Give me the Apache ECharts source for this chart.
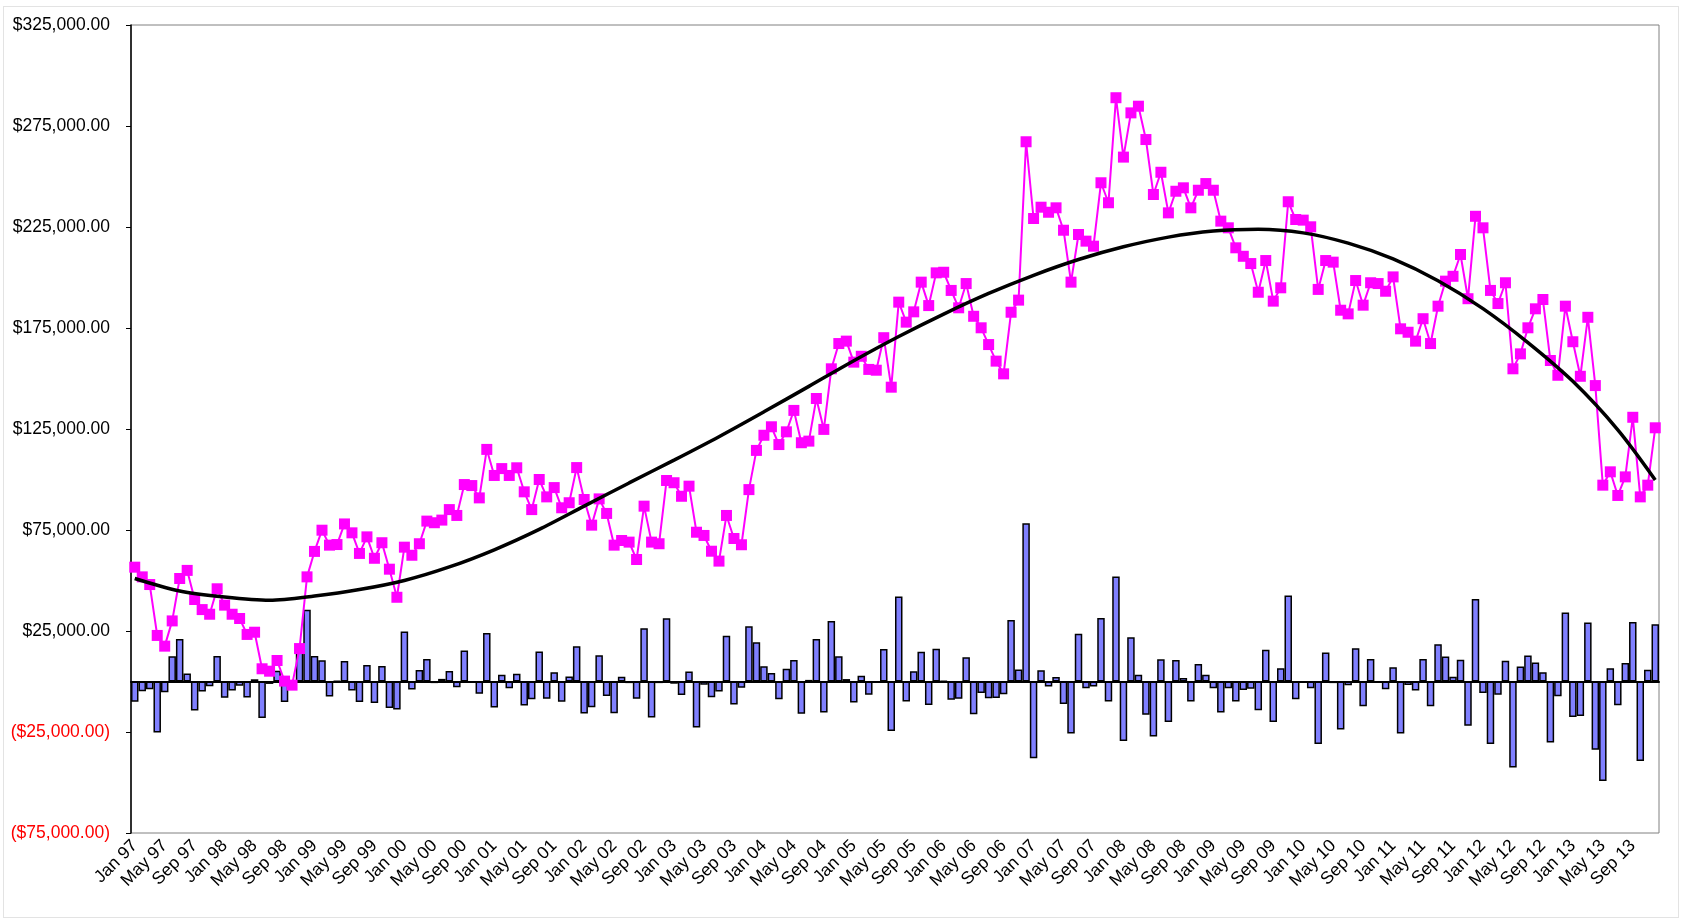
<!DOCTYPE html>
<html>
<head>
    <meta charset="utf-8"/>
    <title>Monthly value, change and trend</title>
    <script src="https://cdn.jsdelivr.net/npm/echarts@6/dist/echarts.min.js"></script>
    <style>
        html, body { margin: 0; padding: 0; background: #fff; }
        #frame { position: absolute; left: 3px; top: 6px; width: 1676px; height: 912px; border: 1px solid #e3e3e3; box-sizing: border-box; }
        #chart { position: absolute; left: 0; top: 0; width: 1681px; height: 920px; }
    </style>
</head>
<body>
<div id="frame"></div>
<div id="chart"></div>
<script>
    // monthly value, Jan 97 .. Dec 13
    var values = [
        56600, 51800, 48000, 22800, 17500, 30000, 51000, 55000, 40600, 35600, 33300, 45900,
        37800, 33300, 31200, 23300, 24400, 6300, 5100, 10400, 200, -1800, 16300, 51800,
        64400, 74900, 67500, 67800, 78000, 73600, 63400, 71600, 61000, 68700, 55600, 41700,
        66500, 62500, 68200, 79400, 78600, 79900, 85100, 82200, 97500, 97000, 90900, 114900,
        102000, 105400, 102000, 105800, 93900, 85100, 100000, 91400, 96000, 86000, 88500, 105900,
        90100, 77400, 90400, 83200, 67500, 69800, 69000, 60400, 86800, 69000, 68200, 99500,
        98400, 91700, 96700, 73900, 72300, 64500, 59600, 82200, 70800, 67700, 95000, 114400,
        121900, 126100, 117300, 123600, 134200, 118200, 119000, 140100, 124800, 154800, 167300, 168500,
        158100, 161000, 154500, 154100, 170200, 145700, 187800, 177900, 183000, 197700, 186100, 202300,
        202600, 193600, 185000, 197000, 180800, 175100, 166800, 158600, 152300, 182800, 188800, 267200,
        229200, 234800, 232300, 234500, 223400, 197700, 221300, 218000, 215500, 246900, 237000, 289000,
        259600, 281500, 284800, 268300, 241100, 252100, 232000, 242700, 244400, 234500, 243200, 246500,
        243200, 227900, 224600, 214700, 210500, 206900, 192700, 208400, 188300, 194900, 237500, 228700,
        228400, 225100, 194100, 208400, 207600, 183800, 182000, 198500, 186300, 197400, 197000, 193200,
        200300, 174600, 172900, 168500, 179600, 167300, 185800, 198200, 200600, 211400, 189500, 230300,
        224600, 193600, 187100, 197400, 154800, 162200, 175100, 184500, 189100, 158900, 151600, 185800,
        168200, 151100, 180300, 146500, 97200, 103800, 92100, 101300, 130800, 91400, 97200, 125600
    ];

    // month-on-month change (bars)
    var changes = [
        -10000, -4800, -3800, -25200, -5300, 12500, 21000, 4000, -14400, -5000, -2300, 12600,
        -8100, -4500, -2100, -7900, 1100, -18100, -1200, 5300, -10200, -2000, 18100, 35500,
        12600, 10500, -7400, 300, 10200, -4400, -10200, 8200, -10600, 7700, -13100, -13900,
        24800, -4000, 5700, 11200, -800, 1300, 5200, -2900, 15300, -500, -6100, 24000,
        -12900, 3400, -3400, 3800, -11900, -8800, 14900, -8600, 4600, -10000, 2500, 17400,
        -15800, -12700, 13000, -7200, -15700, 2300, -800, -8600, 26400, -17800, -800, 31300,
        -1100, -6700, 5000, -22800, -1600, -7800, -4900, 22600, -11400, -3100, 27300, 19400,
        7500, 4200, -8800, 6300, 10600, -16000, 800, 21100, -15300, 30000, 12500, 1200,
        -10400, 2900, -6500, -400, 16100, -24500, 42100, -9900, 5100, 14700, -11600, 16200,
        300, -9000, -8600, 12000, -16200, -5700, -8300, -8200, -6300, 30500, 6000, 78400,
        -38000, 5600, -2500, 2200, -11100, -25700, 23600, -3300, -2500, 31400, -9900, 52000,
        -29400, 21900, 3300, -16500, -27200, 11000, -20100, 10700, 1700, -9900, 8700, 3300,
        -3300, -15300, -3300, -9900, -4200, -3600, -14200, 15700, -20100, 6600, 42600, -8800,
        -300, -3300, -31000, 14300, -800, -23800, -1800, 16500, -12200, 11100, -400, -3800,
        7100, -25700, -1700, -4400, 11100, -12300, 18500, 12400, 2400, 10800, -21900, 40800,
        -5700, -31000, -6500, 10300, -42600, 7400, 12900, 9400, 4600, -30200, -7300, 34200,
        -17600, -17100, 29200, -33800, -49300, 6600, -11700, 9200, 29500, -39400, 5800, 28400
    ];

    // trend curve, read every 6 months
    var trendMonths = [0, 6, 12, 18, 24, 30, 36, 42, 48, 54, 60, 66, 72, 78, 84, 90, 96, 102,
        108, 114, 120, 126, 132, 138, 144, 150, 156, 162, 168, 174, 180, 186, 192, 198, 203];
    var trendValues = [51000, 44800, 41800, 40200, 42300, 45500, 50000, 56700, 65200, 75300, 86800, 98300,
        109600, 121200, 133500, 146100, 158800, 170800, 181900, 192100, 201100, 208900, 215200, 220000,
        223000, 223900, 222100, 217000, 209200, 198400, 184600, 167800, 148600, 124600, 99800];

    var monthNames = ['Jan', 'Feb', 'Mar', 'Apr', 'May', 'Jun', 'Jul', 'Aug', 'Sep', 'Oct', 'Nov', 'Dec'];
    var categories = [];
    for (var yr = 1997; yr <= 2013; yr++) {
        for (var m = 0; m < 12; m++) {
            categories.push(monthNames[m] + ' ' + String(yr).slice(2));
        }
    }

    var trendData = trendMonths.map(function (mi, k) {
        return [mi, trendValues[k]];
    });

    function money(v) {
        var s = Math.abs(v).toFixed(2);
        var parts = s.split('.');
        parts[0] = parts[0].replace(/\B(?=(\d{3})+(?!\d))/g, ',');
        s = '$' + parts[0] + '.' + parts[1];
        return v < 0 ? '(' + s + ')' : s;
    }

    var font = 'Liberation Sans, Arial, sans-serif';
    var myChart = echarts.init(document.getElementById('chart'));
    var option = {
        animation: false,
        grid: {
            left: 131, top: 25, width: 1528, height: 808,
            show: true, borderColor: '#808080', borderWidth: 1, backgroundColor: 'transparent'
        },
        xAxis: [
            {
                type: 'category',
                data: categories,
                axisLine: {onZero: true, lineStyle: {color: '#000', width: 2}},
                axisTick: {interval: 0, length: 4, inside: true, lineStyle: {color: '#000', width: 1}},
                axisLabel: {show: false},
                splitLine: {show: false}
            },
            {
                type: 'category',
                data: categories,
                position: 'bottom',
                axisLine: {onZero: false, show: false},
                axisTick: {show: false},
                axisLabel: {
                    interval: 3, rotate: 45, margin: 10,
                    color: '#000', fontFamily: font, fontSize: 17.5
                },
                splitLine: {show: false}
            },
            {
                type: 'category',
                data: categories,
                axisLine: {onZero: true, show: false},
                axisTick: {interval: 0, length: 3, inside: false, lineStyle: {color: '#000', width: 1}},
                axisLabel: {show: false},
                splitLine: {show: false}
            }
        ],
        yAxis: {
            type: 'value',
            min: -75000, max: 325000, interval: 50000,
            axisLine: {show: true, lineStyle: {color: '#000', width: 1.5}},
            axisTick: {show: true, length: 5, lineStyle: {color: '#000'}},
            splitLine: {show: false},
            axisLabel: {
                margin: 21, fontFamily: font, fontSize: 17.5,
                formatter: money,
                color: function (v) {
                    return Number(v) < 0 ? '#FF0000' : '#000';
                }
            }
        },
        series: [
            {
                name: 'Change',
                type: 'bar',
                xAxisIndex: 0,
                data: changes,
                barCategoryGap: '0%',
                itemStyle: {color: '#8080FF', borderColor: '#000', borderWidth: 1.5},
                z: 2
            },
            {
                name: 'Value',
                type: 'line',
                xAxisIndex: 0,
                data: values,
                symbol: 'rect',
                symbolSize: 11,
                showAllSymbol: true,
                lineStyle: {color: '#FF00FF', width: 2},
                itemStyle: {color: '#FF00FF'},
                z: 3
            },
            {
                name: 'Trend',
                type: 'line',
                xAxisIndex: 0,
                data: trendData,
                smooth: 0.3,
                symbol: 'none',
                lineStyle: {color: '#000', width: 3.5},
                z: 4
            }
        ]
    };
    myChart.setOption(option);
</script>
</body>
</html>
